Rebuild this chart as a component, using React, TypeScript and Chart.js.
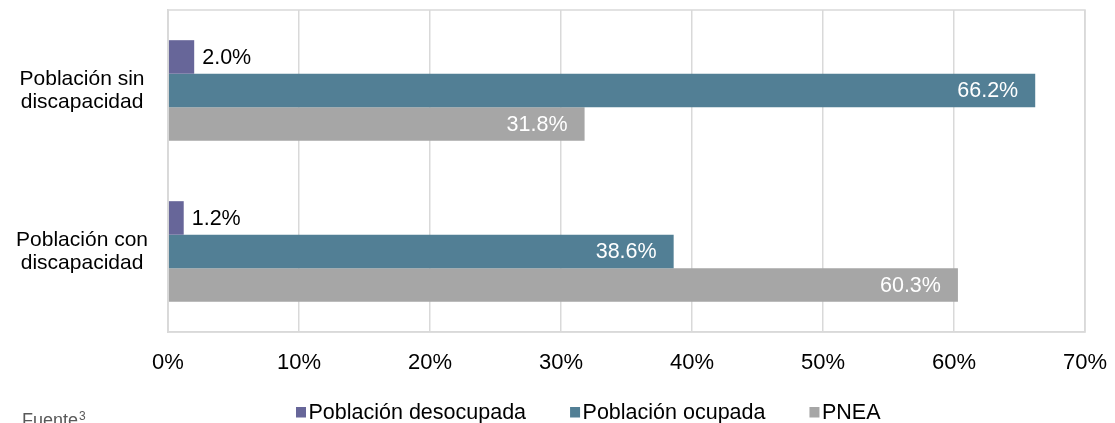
import React, { useEffect, useRef } from "react";
import { Chart, registerables } from "chart.js";

Chart.register(...registerables);

const categories: string[][] = [
  ["Población sin", "discapacidad"],
  ["Población con", "discapacidad"],
];
const seriesNames = ["Población desocupada", "Población ocupada", "PNEA"];
const desocupada = [2.0, 1.2];
const ocupada = [66.2, 38.6];
const pnea = [31.8, 60.3];
const xTicks = [0, 10, 20, 30, 40, 50, 60, 70];
const colors = ["#676699", "#527f95", "#a6a6a6"];

const FONT = "'Liberation Sans', Arial, sans-serif";

const framePlugin = {
  id: "frame",
  afterDraw(chart: any) {
    const { ctx, chartArea } = chart;
    ctx.save();
    ctx.strokeStyle = "#d9d9d9";
    ctx.lineWidth = 1.5;
    ctx.strokeRect(chartArea.left, chartArea.top, chartArea.right - chartArea.left, chartArea.bottom - chartArea.top);
    ctx.restore();
  },
};

const valueLabelPlugin = {
  id: "valueLabels",
  afterDatasetsDraw(chart: any) {
    const { ctx } = chart;
    ctx.save();
    ctx.font = `21.5px ${FONT}`;
    ctx.textBaseline = "middle";
    chart.data.datasets.forEach((ds: any, di: number) => {
      const meta = chart.getDatasetMeta(di);
      meta.data.forEach((bar: any, i: number) => {
        const v = ds.data[i];
        const txt = v.toFixed(1) + "%";
        if (di === 0) {
          ctx.fillStyle = "#000000";
          ctx.textAlign = "left";
          ctx.fillText(txt, bar.x + 8, bar.y + 1);
        } else {
          ctx.fillStyle = "#ffffff";
          ctx.textAlign = "right";
          ctx.fillText(txt, bar.x - 17, bar.y + 1);
        }
      });
    });
    ctx.restore();
  },
};

const legendPlugin = {
  id: "customLegend",
  afterDraw(chart: any) {
    const { ctx } = chart;
    ctx.save();
    ctx.font = `21.5px ${FONT}`;
    ctx.textBaseline = "middle";
    ctx.textAlign = "left";
    let x = 296;
    const y = 412.5;
    chart.data.datasets.forEach((ds: any) => {
      ctx.fillStyle = ds.backgroundColor;
      ctx.fillRect(x, y - 5.5, 10, 10.5);
      x += 12.5;
      ctx.fillStyle = "#000000";
      ctx.fillText(ds.label, x, y + 1);
      x += ctx.measureText(ds.label).width + 44;
    });
    // source note
    ctx.fillStyle = "#595959";
    ctx.font = `18px ${FONT}`;
    ctx.textBaseline = "alphabetic";
    ctx.fillText("Fuente", 22, 426);
    const w = ctx.measureText("Fuente").width;
    ctx.font = `12px ${FONT}`;
    ctx.fillText("3", 22 + w + 1, 420);
    ctx.restore();
  },
};

export default function App() {
  const ref = useRef<HTMLCanvasElement | null>(null);
  useEffect(() => {
    document.body.style.margin = "0";
    const canvas = ref.current;
    if (!canvas) return;
    const chart = new Chart(canvas, {
      type: "bar",
      data: {
        labels: categories as any,
        datasets: [
          { label: seriesNames[0], data: desocupada, backgroundColor: colors[0] },
          { label: seriesNames[1], data: ocupada, backgroundColor: colors[1] },
          { label: seriesNames[2], data: pnea, backgroundColor: colors[2] },
        ],
      },
      options: {
        indexAxis: "y",
        responsive: false,
        animation: false,
        devicePixelRatio: 1,
        layout: { padding: { top: 10, right: 30, left: 0, bottom: 0 } },
        datasets: { bar: { categoryPercentage: 0.625, barPercentage: 1 } },
        plugins: { legend: { display: false }, tooltip: { enabled: false } },
        scales: {
          x: {
            min: xTicks[0],
            max: xTicks[xTicks.length - 1],
            afterBuildTicks: (s: any) => {
              s.ticks = xTicks.map((v) => ({ value: v }));
            },
            afterFit: (s: any) => {
              s.height = 91;
              s.paddingLeft = 0;
              s.paddingRight = 0;
            },
            grid: { color: "#d9d9d9", lineWidth: 1.5, drawTicks: false },
            border: { display: true, color: "#d9d9d9", width: 1.5 },
            ticks: {
              padding: 18,
              color: "#000000",
              font: { family: FONT, size: 22 },
              callback: (v: any) => v + "%",
            },
          },
          y: {
            afterFit: (s: any) => {
              s.width = 168;
              s.paddingTop = 0;
              s.paddingBottom = 0;
            },
            grid: { display: false },
            border: { display: true, color: "#d9d9d9", width: 1.5 },
            ticks: {
              padding: 12,
              crossAlign: "center",
              color: "#000000",
              font: { family: FONT, size: 21, lineHeight: 1.1 },
            },
          },
        },
      },
      plugins: [framePlugin, valueLabelPlugin, legendPlugin],
    });
    return () => chart.destroy();
  }, []);
  return (
    <div style={{ width: 1115, height: 423, background: "#fff" }}>
      <canvas ref={ref} width={1115} height={423} />
    </div>
  );
}
